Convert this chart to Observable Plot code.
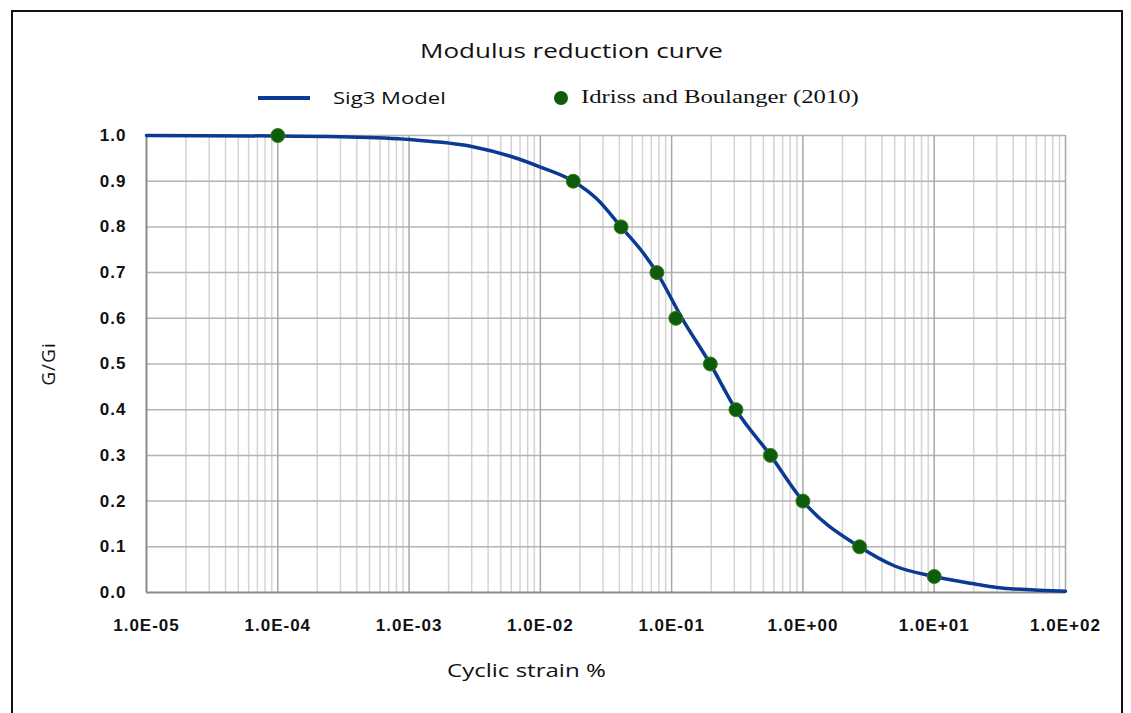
<!DOCTYPE html>
<html>
<head>
<meta charset="utf-8">
<script src="https://cdn.jsdelivr.net/npm/d3@7"></script>
<script src="https://cdn.jsdelivr.net/npm/@observablehq/plot@0.6"></script>
<style>
  html, body { margin: 0; padding: 0; background: #fff; overflow: hidden; }
  #wrap { position: relative; width: 1131px; height: 713px; overflow: hidden; background: #fff; }
  #frame { position: absolute; left: 11px; top: 10px; width: 1112px; height: 720px; border: 2.5px solid #111; box-sizing: border-box; pointer-events: none; }
  .txt { position: absolute; white-space: nowrap; color: #111; transform-origin: 0 50%; }
  #title { font-family: "Open Sans", sans-serif; font-size: 20px; left: 420px; top: 37px; transform: scaleX(1.3); }
  #xlabel { font-family: "Open Sans", sans-serif; font-size: 18.5px; left: 447px; top: 657px; transform: scaleX(1.3); }
  .leg1 { font-family: "Open Sans", sans-serif; font-size: 17px; left: 333px; top: 86px; transform: scaleX(1.3); }
  .leg2 { font-family: "Liberation Serif", "Times New Roman", serif; font-size: 19px; left: 581px; top: 86px; transform: scaleX(1.3); }
  .legline { position: absolute; left: 258px; top: 96px; width: 52px; height: 4px; }
  .legdot { position: absolute; left: 554px; top: 91px; width: 14px; height: 14px; border-radius: 50%; }
</style>
</head>
<body>
<div id="wrap">
  <div id="chart"></div>
  <div id="frame"></div>
</div>
<script>
// ---- data ----
const title = "Modulus reduction curve";
const xLabel = "Cyclic strain %";
const yLabel = "G/Gi";
const seriesNames = ["Sig3 Model", "Idriss and Boulanger (2010)"];

// Sig3 model curve
const curveStrain = [1e-5, 1e-4, 3e-4, 1e-3, 3e-3, 6e-3, 1e-2, 0.0178, 0.027, 0.0412, 0.06, 0.0772, 0.12, 0.197, 0.309, 0.566, 1.0, 2.7, 5, 10, 20, 30, 100];
const curveG      = [1.0, 0.999, 0.997, 0.991, 0.976, 0.954, 0.931, 0.9, 0.861, 0.8, 0.745, 0.7, 0.6, 0.5, 0.4, 0.3, 0.2, 0.1, 0.058, 0.035, 0.019, 0.011, 0.003];

// Idriss and Boulanger (2010) points
const pointStrain = [1e-4, 0.0178, 0.0412, 0.0772, 0.1077, 0.197, 0.309, 0.566, 1.0, 2.7, 10];
const pointG      = [1.0, 0.9, 0.8, 0.7, 0.6, 0.5, 0.4, 0.3, 0.2, 0.1, 0.035];

// axis ticks
const xTicks = [1e-5, 1e-4, 1e-3, 1e-2, 1e-1, 1e0, 1e1, 1e2];
const xTickLabels = ["1.0E-05", "1.0E-04", "1.0E-03", "1.0E-02", "1.0E-01", "1.0E+00", "1.0E+01", "1.0E+02"];
const yTicks = [0, 0.1, 0.2, 0.3, 0.4, 0.5, 0.6, 0.7, 0.8, 0.9, 1.0];
const yTickLabels = ["0.0", "0.1", "0.2", "0.3", "0.4", "0.5", "0.6", "0.7", "0.8", "0.9", "1.0"];

// colours
const lineColor = "#0a3a94";
const dotColor = "#0c5c0c";

// ---- build ----
const curve = curveStrain.map((x, i) => ({x, g: curveG[i]}));
const points = pointStrain.map((x, i) => ({x, g: pointG[i]}));
const minorTicks = [];
for (let i = 0; i < xTicks.length - 1; i++) {
  for (let k = 2; k <= 9; k++) minorTicks.push(xTicks[i] * k);
}
const xFmt = d => {
  const j = xTicks.findIndex(t => Math.abs(Math.log10(t) - Math.log10(d)) < 1e-6);
  return j >= 0 ? xTickLabels[j] : "";
};
const yFmt = d => {
  const j = yTicks.findIndex(t => Math.abs(t - d) < 1e-6);
  return j >= 0 ? yTickLabels[j] : "";
};

const plot = Plot.plot({
  width: 1131,
  height: 713,
  marginLeft: 146,
  marginRight: 66,
  marginTop: 135,
  marginBottom: 121,
  style: { fontFamily: "'Liberation Sans', Arial, sans-serif", background: "transparent", color: "#111", letterSpacing: "1px" },
  x: { type: "log", domain: [1e-5, 1e2], ticks: xTicks, tickFormat: xFmt },
  y: { domain: [0, 1], ticks: yTicks, tickFormat: yFmt },
  marks: [
    Plot.ruleX(minorTicks, { stroke: "#d4d4d4", strokeWidth: 1.5 }),
    Plot.ruleY(yTicks.slice(1), { stroke: "#b4b4b4", strokeWidth: 1.5 }),
    Plot.ruleX(xTicks.slice(1), { stroke: "#a8a8a8", strokeWidth: 1.5 }),
    Plot.ruleY([0], { stroke: "#8a8a8a", strokeWidth: 2 }),
    Plot.ruleX([xTicks[0]], { stroke: "#8a8a8a", strokeWidth: 2 }),
    Plot.axisX({
      ticks: xTicks, tickFormat: xFmt,
      tickSize: 0, tickPadding: 26, fontSize: 17, fontWeight: "bold", label: null
    }),
    Plot.axisY({
      ticks: yTicks, tickFormat: yFmt,
      tickSize: 0, tickPadding: 20, fontSize: 17, fontWeight: "bold", label: null
    }),
    Plot.text([yLabel], {
      frameAnchor: "left", rotate: -90, dx: -98, text: d => d,
      fontSize: 19, fontFamily: "'Open Sans', sans-serif", fill: "#111", lineAnchor: "middle", textAnchor: "middle"
    }),
    Plot.line(curve, { x: "x", y: "g", stroke: lineColor, strokeWidth: 3.5, curve: "monotone-x" }),
    Plot.dot(points, { x: "x", y: "g", r: 7, fill: dotColor, stroke: "#3f7a1a", strokeWidth: 1 })
  ]
});
document.getElementById("chart").appendChild(plot);

// HTML title / legend / x label
const wrap = document.getElementById("wrap");
function addText(cls, id, text) {
  const d = document.createElement("div");
  d.className = "txt " + cls;
  if (id) d.id = id;
  d.textContent = text;
  wrap.appendChild(d);
}
addText("", "title", title);
addText("", "xlabel", xLabel);
const ll = document.createElement("div"); ll.className = "legline"; ll.style.background = lineColor; wrap.appendChild(ll);
addText("leg1", null, seriesNames[0]);
const ld = document.createElement("div"); ld.className = "legdot"; ld.style.background = dotColor; wrap.appendChild(ld);
addText("leg2", null, seriesNames[1]);
</script>
</body>
</html>
